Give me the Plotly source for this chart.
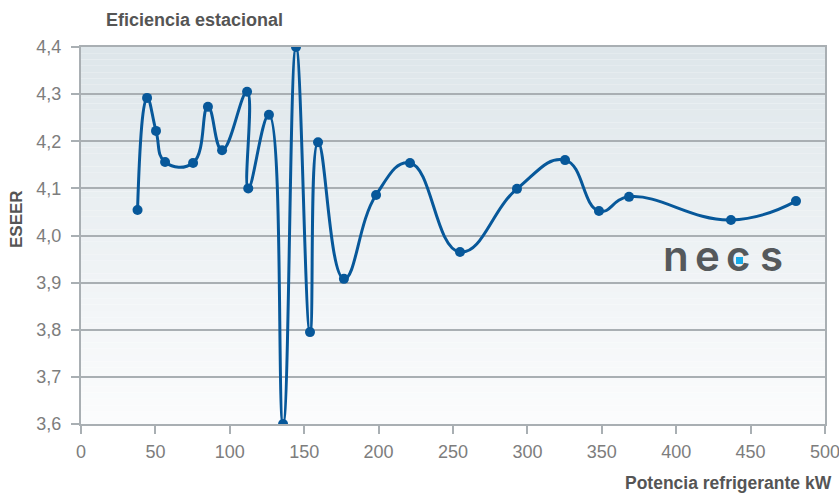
import plotly.graph_objects as go

potencia = [38, 44.4, 50.4, 56.5, 75.3, 85.3, 94.8, 111.6, 112.4, 126.3, 135.8, 144.5,
            153.9, 159.3, 176.7, 198.3, 221.1, 254.7, 293, 325.3, 348.1, 368.3, 436.8, 480.5]
eseer = [4.054, 4.292, 4.222, 4.156, 4.154, 4.273, 4.181, 4.305, 4.100, 4.256, 3.600, 4.400,
         3.795, 4.198, 3.908, 4.086, 4.154, 3.965, 4.099, 4.160, 4.052, 4.082, 4.033, 4.073]

x_ticks = [0, 50, 100, 150, 200, 250, 300, 350, 400, 450, 500]
y_ticks = [3.6, 3.7, 3.8, 3.9, 4.0, 4.1, 4.2, 4.3, 4.4]

LINE = "#07589a"
GRID = "#a9afb3"
TXT = "#7d7d7d"
TITLE = "#555555"

W, H = 839, 493
ML, MR, MT, MB = 81, 14, 47, 69
PW, PH = W - ML - MR, H - MT - MB


def px(xp):
    return (xp - ML) / PW


def py(yp):
    return (H - MB - yp) / PH


fig = go.Figure()

# gradient background bands
n = 60
top = (222, 230, 234)
bot = (251, 252, 253)
shapes = []
for i in range(n):
    t = i / (n - 1)
    c = tuple(round(top[k] + (bot[k] - top[k]) * t) for k in range(3))
    shapes.append(dict(type="rect", xref="x domain", yref="y domain",
                       x0=0, x1=1, y0=1 - (i + 1) / n, y1=1 - i / n,
                       fillcolor="rgb(%d,%d,%d)" % c, line=dict(width=0), layer="below"))

fig.add_trace(go.Scatter(
    x=potencia, y=eseer, mode="lines+markers",
    line=dict(color=LINE, width=3, shape="spline", smoothing=1.3),
    marker=dict(color=LINE, size=10),
    cliponaxis=True, hoverinfo="x+y",
))

annotations = [
    dict(text="Eficiencia estacional", xref="paper", yref="paper", x=px(104), y=py(20),
         xanchor="left", yanchor="middle", showarrow=False,
         font=dict(family="Liberation Sans", size=18, color=TITLE, weight="bold")),
    dict(text="ESEER", xref="paper", yref="paper", x=px(16), y=py(219),
         xanchor="center", yanchor="middle", showarrow=False, textangle=-90,
         font=dict(family="Liberation Sans", size=17, color=TITLE, weight="bold")),
    dict(text="Potencia refrigerante kW", xref="paper", yref="paper", x=px(834), y=py(483),
         xanchor="right", yanchor="middle", showarrow=False,
         font=dict(family="Liberation Sans", size=17.5, color=TITLE, weight="bold")),
]
# logo letters
letters = [("n", 676), ("e", 707), ("c", 738), ("s", 771)]
for ch, xp in letters:
    annotations.append(dict(text=ch, xref="paper", yref="paper", x=px(xp), y=py(255),
                            xanchor="center", yanchor="middle", showarrow=False,
                            font=dict(family="Inter", size=42, color="#55595c", weight=600)))

shapes.append(dict(type="rect", xref="paper", yref="paper",
                   x0=px(736), x1=px(743), y0=py(264), y1=py(257),
                   fillcolor="#19a9e6", line=dict(width=0), layer="above"))

fig.update_layout(
    width=W, height=H,
    margin=dict(l=ML, r=MR, t=MT, b=MB, autoexpand=False),
    paper_bgcolor="white", plot_bgcolor="rgba(0,0,0,0)",
    separators=",.",
    showlegend=False,
    shapes=shapes,
    annotations=annotations,
)
fig.update_xaxes(range=[0, 500], tickvals=x_ticks, showgrid=False, zeroline=False,
                 showline=True, linecolor=GRID, linewidth=2, mirror=True, automargin=False,
                 ticks="outside", ticklen=8, tickcolor=GRID, tickwidth=2,
                 ticklabelstandoff=2, ticklabeloverflow="allow",
                 tickfont=dict(family="Liberation Sans", size=18, color=TXT))
fig.update_yaxes(range=[3.6, 4.4], tickvals=y_ticks, tickformat=".1f",
                 showgrid=True, gridcolor=GRID, gridwidth=1.5, zeroline=False,
                 showline=True, linecolor=GRID, linewidth=2, mirror=True, automargin=False,
                 ticks="outside", ticklen=8, tickcolor=GRID, tickwidth=2,
                 ticklabelstandoff=6, ticklabeloverflow="allow",
                 tickfont=dict(family="Liberation Sans", size=18, color=TXT))

fig.write_html(
    "out.html",
    config={"displayModeBar": False},
    post_script="document.body.style.margin='0';document.body.style.overflow='hidden';",
)
